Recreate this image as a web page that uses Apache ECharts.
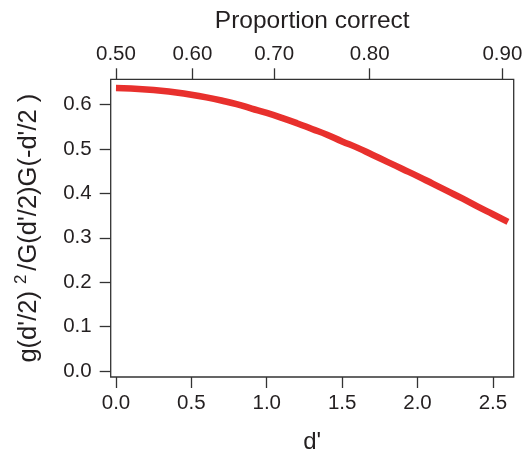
<!DOCTYPE html>
<html>
<head>
<meta charset="utf-8">
<script src="https://cdn.jsdelivr.net/npm/echarts@6/dist/echarts.min.js"></script>
<style>html,body{margin:0;padding:0;background:#fff;}#c{width:529px;height:459px;}</style>
</head>
<body>
<div id="c"></div>
<script>
// d' values and curve values
const dPrime = [0.0,0.1,0.2,0.3,0.4,0.5,0.6,0.7,0.8,0.9,1.0,1.1,1.2,1.3,1.4,1.5,1.6,1.7,1.8,1.9,2.0,2.1,2.2,2.3,2.4,2.5,2.6];
const ratio  = [0.637,0.636,0.634,0.631,0.627,0.622,0.616,0.609,0.601,0.591,0.581,0.570,0.558,0.545,0.532,0.517,0.503,0.487,0.471,0.455,0.439,0.422,0.405,0.388,0.370,0.353,0.336];
// bottom axis ticks
const xTicks = [0, 0.5, 1.0, 1.5, 2.0, 2.5];
// left axis ticks
const yTicks = [0, 0.1, 0.2, 0.3, 0.4, 0.5, 0.6];
// top axis: proportion correct labels and their d' positions
const topLabels = ['0.50','0.60','0.70','0.80','0.90'];
const topTickPos = [0, 0.507, 1.049, 1.683, 2.563];

const textColor = '#231f20';
const lineColor = '#333';
const font = 'Liberation Sans, Arial, Helvetica, sans-serif';

const chart = echarts.init(document.getElementById('c'), null, {renderer: 'canvas'});
chart.setOption({
  animation: false,
  backgroundColor: '#fff',
  grid: {left: 110.7, right: 15.3, top: 79.3, bottom: 76.3, show: true, borderColor: lineColor, borderWidth: 1.3, backgroundColor: 'transparent'},
  xAxis: [{
    type: 'value', position: 'bottom', min: -0.035, max: 2.638,
    name: "d'", nameLocation: 'middle', nameGap: 53,
    nameTextStyle: {fontFamily: font, fontSize: 24, color: textColor},
    axisLine: {show: false, onZero: false},
    axisTick: {show: true, length: 11, customValues: xTicks, lineStyle: {color: lineColor, width: 1.3}},
    axisLabel: {customValues: xTicks, margin: 16, fontFamily: font, fontSize: 20.5, color: textColor, formatter: v => v.toFixed(1)},
    splitLine: {show: false}
  }, {
    type: 'value', position: 'top', min: -0.035, max: 2.638,
    name: 'Proportion correct', nameLocation: 'middle', nameGap: 46,
    nameTextStyle: {fontFamily: font, fontSize: 24.5, color: textColor},
    axisLine: {show: false, onZero: false},
    axisTick: {show: true, length: 11, customValues: topTickPos, lineStyle: {color: lineColor, width: 1.3}},
    axisLabel: {customValues: topTickPos, margin: 14, fontFamily: font, fontSize: 20.5, color: textColor,
      formatter: v => { const i = topTickPos.findIndex(p => Math.abs(p - v) < 1e-6); return i >= 0 ? topLabels[i] : ''; }},
    splitLine: {show: false}
  }],
  yAxis: [{
    type: 'value', min: -0.01325, max: 0.6568,
    name: "g(d'/2){sup|2}/G(d'/2)G(-d'/2 )", nameLocation: 'middle', nameGap: 66, nameRotate: 90,
    nameTextStyle: {fontFamily: font, fontSize: 25.5, color: textColor,
      rich: {sup: {fontFamily: font, fontSize: 17, color: textColor, padding: [0, 4, 15, 7]}}},
    axisLine: {show: false, onZero: false},
    axisTick: {show: true, length: 11, customValues: yTicks, lineStyle: {color: lineColor, width: 1.3}},
    axisLabel: {customValues: yTicks, margin: 19, fontFamily: font, fontSize: 20.5, color: textColor, formatter: v => v.toFixed(1)},
    splitLine: {show: false}
  }],
  series: [{
    type: 'line', xAxisIndex: 0, yAxisIndex: 0,
    data: dPrime.map((d, i) => [d, ratio[i]]),
    showSymbol: false, smooth: true,
    lineStyle: {color: '#e8302d', width: 6.5, cap: 'butt'}
  }]
});
</script>
</body>
</html>
